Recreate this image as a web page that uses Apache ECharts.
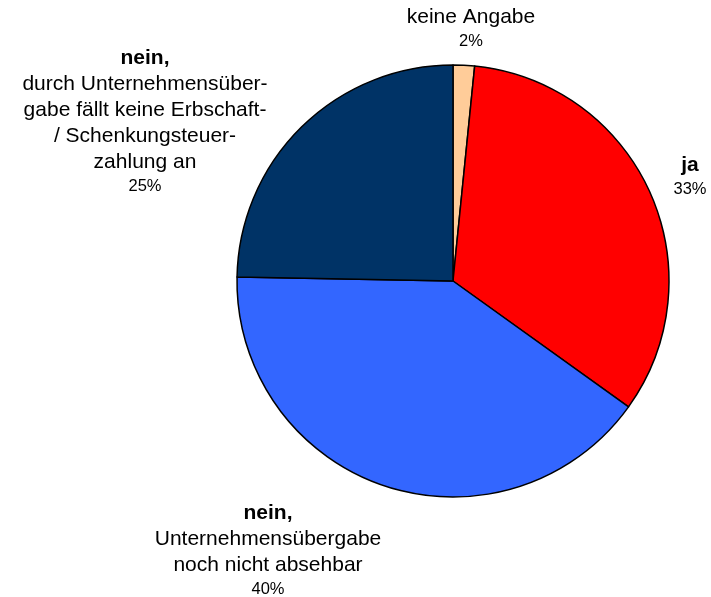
<!DOCTYPE html>
<html>
<head>
    <meta charset="utf-8">
    <script src="https://cdn.jsdelivr.net/npm/echarts@6/dist/echarts.min.js"></script>
    <style type="text/css">
        html, body { width: 100%; height: 100%; margin: 0; background: #fff; }
        #chart { width: 711px; height: 597px; }
    </style>
</head>
<body>
<div id="chart"></div>
<script type="text/javascript">
    // Daten
    var categories = ['keine Angabe', 'ja', 'nein, Unternehmensübergabe noch nicht absehbar',
        'nein, durch Unternehmensübergabe fällt keine Erbschaft-/Schenkungsteuerzahlung an'];
    var boldParts = ['', 'ja', 'nein,', 'nein,'];
    var nameLines = [
        ['keine Angabe'],
        [],
        ['Unternehmensübergabe', 'noch nicht absehbar'],
        ['durch Unternehmensüber-', 'gabe fällt keine Erbschaft-', '/ Schenkungsteuer-', 'zahlung an']
    ];
    var values = [1.6, 33.3, 40.4, 24.7];
    var percentLabels = ['2%', '33%', '40%', '25%'];
    var colors = ['#ffcc99', '#ff0000', '#3366ff', '#003366'];

    // label placement (center x, top y)
    var labelPos = [[471, 4], [690, 152], [268, 500], [145, 45]];

    var data = values.map(function (v, i) {
        return { name: categories[i], value: v, itemStyle: { color: colors[i] } };
    });

    var option = {
        animation: false,
        series: [{
            type: 'pie',
            center: [453, 281],
            radius: 216,
            startAngle: 90,
            clockwise: true,
            data: data,
            itemStyle: { borderColor: '#000', borderWidth: 1.5 },
            labelLine: { show: false },
            label: {
                show: true,
                position: 'outside',
                align: 'center',
                overflow: 'none',
                width: 300,
                formatter: function (p) {
                    var i = p.dataIndex;
                    var parts = [];
                    if (boldParts[i]) parts.push('{b|' + boldParts[i] + '}');
                    nameLines[i].forEach(function (l) { parts.push('{n|' + l + '}'); });
                    parts.push('{p|' + percentLabels[i] + '}');
                    return parts.join('\n');
                },
                rich: {
                    b: { fontFamily: 'Liberation Sans', fontWeight: 'bold', fontSize: 21, lineHeight: 26, color: '#000', align: 'center' },
                    n: { fontFamily: 'Liberation Sans', fontSize: 21, lineHeight: 26, color: '#000', align: 'center' },
                    p: { fontFamily: 'Liberation Sans', fontSize: 16.5, lineHeight: 23, color: '#000', align: 'center' }
                }
            },
            labelLayout: function (p) {
                var pos = labelPos[p.dataIndex];
                return { x: pos[0], y: pos[1], align: 'center', verticalAlign: 'top' };
            }
        }]
    };

    var myChart = echarts.init(document.getElementById('chart'));
    myChart.setOption(option);
</script>
</body>
</html>
